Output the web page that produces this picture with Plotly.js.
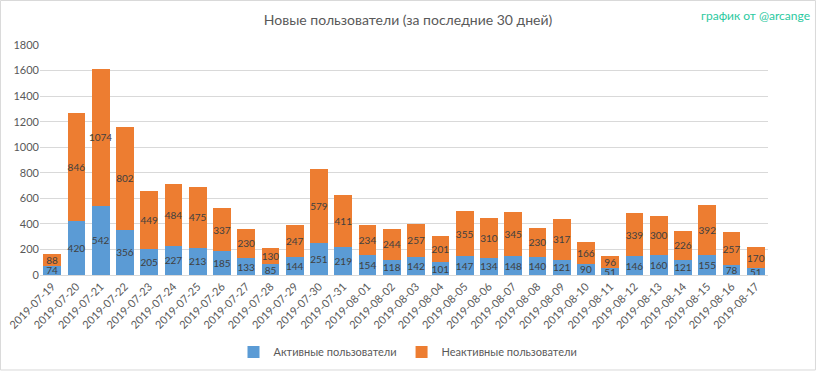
<!DOCTYPE html>
<html><head><meta charset="utf-8">
<script src="https://cdn.plot.ly/plotly-3.0.1.min.js"></script>
<style>html,body{margin:0;padding:0;background:#fff}#c{width:816px;height:371px}</style>
</head><body><div id="c"></div>
<script>
const dates = ["2019-07-19","2019-07-20","2019-07-21","2019-07-22","2019-07-23","2019-07-24","2019-07-25","2019-07-26","2019-07-27","2019-07-28","2019-07-29","2019-07-30","2019-07-31","2019-08-01","2019-08-02","2019-08-03","2019-08-04","2019-08-05","2019-08-06","2019-08-07","2019-08-08","2019-08-09","2019-08-10","2019-08-11","2019-08-12","2019-08-13","2019-08-14","2019-08-15","2019-08-16","2019-08-17"];
const active = [74,420,542,356,205,227,213,185,133,85,144,251,219,154,118,142,101,147,134,148,140,121,90,51,146,160,121,155,78,51];
const inactive = [88,846,1074,802,449,484,475,337,230,130,247,579,411,234,244,257,201,355,310,345,230,317,166,96,339,300,226,392,257,170];
const yTicks = [0,200,400,600,800,1000,1200,1400,1600,1800];

const font = "Lato, 'Open Sans', sans-serif";
const common = {type:'bar', x:dates, texttemplate:'%{y}', textposition:'inside', insidetextanchor:'middle',
  textangle:0, constraintext:'none', cliponaxis:false, textfont:{family:font,size:10,color:'#404040'}, hoverinfo:'y'};
const data = [
  Object.assign({}, common, {name:'Активные пользователи', y:active, marker:{color:'#5B9BD5'}}),
  Object.assign({}, common, {name:'Неактивные пользователи', y:inactive, marker:{color:'#ED7D31'}})
];
const layout = {
  width:816, height:371, barmode:'stack', bargap:0.27,
  margin:{l:40,r:48,t:45,b:96},
  paper_bgcolor:'#fff', plot_bgcolor:'#fff',
  font:{family:font,color:'#595959',size:11},
  uniformtext:{mode:'show', minsize:10},
  title:{text:'Новые пользователи (за последние 30 дней)', x:0.5, xanchor:'center', y:0.945, yanchor:'middle', font:{family:font,size:14,color:'#595959'}},
  xaxis:{type:'category', tickangle:-45, tickfont:{size:11,color:'#595959'}, showgrid:false, showline:true, linecolor:'#d9d9d9', ticks:'', automargin:false},
  yaxis:{range:[0,1800], tickvals:yTicks, ticktext:yTicks.map(String), showgrid:true, gridcolor:'#d9d9d9', zeroline:false, tickfont:{size:11,color:'#595959'}, ticks:'', automargin:false},
  legend:{orientation:'h', x:0.5, xanchor:'center', xref:'container', yref:'container', y:0.051, yanchor:'middle', font:{size:11,color:'#595959'}, traceorder:'normal'},
  showlegend:true,
  annotations:[{text:'график от @arcange', xref:'paper', yref:'paper', x:1.06, y:1.13, xanchor:'right', yanchor:'middle', showarrow:false, font:{family:font,size:12,color:'#2BC9A0'}}],
  shapes:[{type:'rect', xref:'paper', yref:'paper', x0:-0.0543, x1:1.0652, y0:-0.413, y1:1.1935, line:{color:'#d9d9d9',width:1}}]
};
Plotly.newPlot('c', data, layout, {displayModeBar:false, staticPlot:true});
</script></body></html>
